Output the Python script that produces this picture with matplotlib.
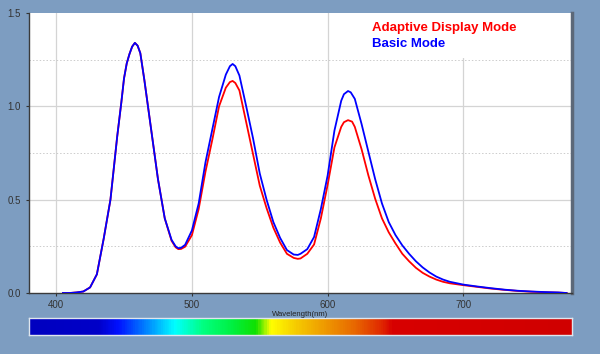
import numpy as np
import matplotlib
matplotlib.use("Agg")
import matplotlib.pyplot as plt
from matplotlib.colors import LinearSegmentedColormap
from matplotlib.patches import Rectangle

plt.rcParams['font.family'] = ['Liberation Sans', 'DejaVu Sans']

# spectra (wavelength in nm, relative intensity)
wl_basic = [405, 410, 415, 420, 425, 430, 435, 440, 445, 448, 450, 452, 454, 456, 458, 460, 462,
            465, 470, 475, 480, 485, 488, 490, 492, 495, 500, 505, 510, 515, 520, 525, 528, 530,
            532, 535, 540, 545, 550, 555, 560, 565, 570, 575, 578, 580, 585, 590, 595, 600, 605,
            610, 612, 615, 617, 620, 625, 630, 635, 640, 645, 650, 655, 660, 665, 670, 675, 680,
            685, 690, 700, 710, 720, 730, 740, 750, 760, 770, 776]
basic = [0.0, 0.0, 0.003, 0.008, 0.03, 0.10, 0.29, 0.50, 0.84, 1.02, 1.15, 1.23, 1.28, 1.32, 1.34,
         1.325, 1.285, 1.14, 0.875, 0.61, 0.40, 0.285, 0.25, 0.24, 0.242, 0.258, 0.335, 0.48, 0.70,
         0.875, 1.05, 1.17, 1.215, 1.227, 1.215, 1.165, 1.00, 0.83, 0.64, 0.50, 0.38, 0.295, 0.23,
         0.206, 0.204, 0.21, 0.235, 0.30, 0.45, 0.63, 0.87, 1.03, 1.065, 1.082, 1.075, 1.04, 0.905,
         0.757, 0.61, 0.48, 0.38, 0.31, 0.255, 0.21, 0.17, 0.137, 0.11, 0.088, 0.072, 0.06, 0.045,
         0.035, 0.026, 0.018, 0.012, 0.008, 0.005, 0.003, 0.0]

wl_adaptive = [405, 410, 415, 420, 425, 430, 435, 440, 445, 448, 450, 452, 454, 456, 458, 460, 462,
               465, 470, 475, 480, 485, 488, 490, 492, 495, 500, 505, 510, 515, 520, 525, 528, 530,
               532, 535, 540, 545, 550, 555, 560, 565, 570, 575, 578, 580, 585, 590, 595, 600, 605,
               610, 612, 615, 618, 620, 625, 630, 635, 640, 645, 650, 655, 660, 665, 670, 675, 680,
               685, 690, 700, 710, 720, 730, 740, 750, 760, 770, 776]
adaptive = [0.0, 0.0, 0.003, 0.008, 0.03, 0.10, 0.29, 0.50, 0.84, 1.02, 1.15, 1.23, 1.28, 1.32, 1.34,
            1.325, 1.285, 1.14, 0.875, 0.61, 0.40, 0.28, 0.245, 0.235, 0.236, 0.248, 0.31, 0.45, 0.65,
            0.82, 1.00, 1.10, 1.13, 1.136, 1.125, 1.085, 0.915, 0.745, 0.575, 0.455, 0.35, 0.27, 0.21,
            0.188, 0.183, 0.185, 0.21, 0.26, 0.40, 0.58, 0.78, 0.89, 0.915, 0.926, 0.918, 0.89, 0.77,
            0.63, 0.505, 0.40, 0.325, 0.265, 0.21, 0.17, 0.135, 0.108, 0.088, 0.072, 0.06, 0.052, 0.042,
            0.033, 0.024, 0.017, 0.011, 0.007, 0.004, 0.002, 0.0]

x_ticks = [400, 500, 600, 700]
y_ticks = [0.0, 0.5, 1.0, 1.5]

# spectrum strip colour stops
strip_wl = [380, 430, 445, 465, 487, 508, 530, 547, 558, 578, 600, 620, 640, 648, 780]
strip_col = ['#0000c0', '#0000c8', '#0010ff', '#0080ff', '#00ffff', '#00ff80', '#00f040',
             '#10e000', '#ffff00', '#f5c800', '#ee9500', '#e86800', '#e02800', '#d80000', '#d00000']

bg = '#7d9dc1'
fig = plt.figure(figsize=(6, 3.54), dpi=100, facecolor=bg)

ax = fig.add_axes([29 / 600, 61 / 354, 543 / 600, 280 / 354])
ax.set_facecolor('white')
ax.set_xlim(380, 780)
ax.set_ylim(0, 1.5)

for v in x_ticks:
    ax.axvline(v, color='#d4d4d4', lw=0.9, zorder=0)
for v in [0.5, 1.0]:
    ax.axhline(v, color='#d4d4d4', lw=0.9, zorder=0)
for v in [0.25, 0.75, 1.25]:
    ax.axhline(v, color='#cccccc', lw=0.7, ls=(0, (1.5, 2)), zorder=0)

ax.add_patch(Rectangle(((355 - 29) / 543, (293 - 58) / 280), 1, 1, transform=ax.transAxes,
                       facecolor='white', edgecolor='none', zorder=1))

ax.plot(wl_adaptive, adaptive, color='#ff0000', lw=1.3, zorder=3)
ax.plot(wl_basic, basic, color='#0000ff', lw=1.3, zorder=4)

ax.text((372 - 29) / 543, (293 - 28) / 280, 'Adaptive Display Mode', transform=ax.transAxes,
        color='#ff0000', fontsize=9.5, fontweight='bold', va='center', ha='left', zorder=5)
ax.text((372 - 29) / 543, (293 - 44) / 280, 'Basic Mode', transform=ax.transAxes,
        color='#0000ff', fontsize=9.5, fontweight='bold', va='center', ha='left', zorder=5)

ax.set_xticks(x_ticks)
ax.set_yticks(y_ticks)
ax.set_yticklabels(['0.0', '0.5', '1.0', '1.5'])
ax.tick_params(axis='both', colors='#333333', labelsize=7, length=2.5, width=0.8, pad=3.5)
ax.tick_params(axis='x', pad=2.5)

for s in ['left', 'bottom']:
    ax.spines[s].set_color('#3a3a3a')
    ax.spines[s].set_linewidth(1.0)
ax.spines['top'].set_visible(False)
ax.spines['right'].set_color('#5c6878')
ax.spines['right'].set_linewidth(2.5)

fig.text(300 / 600, 1 - 315 / 354, 'Wavelength(nm)', fontsize=5.5, color='#222222',
         ha='center', va='center')

# spectrum strip
cax = fig.add_axes([29 / 600, 19 / 354, 543 / 600, 17 / 354])
span = strip_wl[-1] - strip_wl[0]
cmap = LinearSegmentedColormap.from_list(
    'spec', [((w - strip_wl[0]) / span, c) for w, c in zip(strip_wl, strip_col)])
grad = np.linspace(0, 1, 600)[None, :]
cax.imshow(grad, aspect='auto', cmap=cmap, extent=[380, 780, 0, 1])
cax.set_xticks([])
cax.set_yticks([])
for s in cax.spines.values():
    s.set_color('#dfe6ee')
    s.set_linewidth(1.0)

fig.savefig('out.png', dpi=100, facecolor=bg)
